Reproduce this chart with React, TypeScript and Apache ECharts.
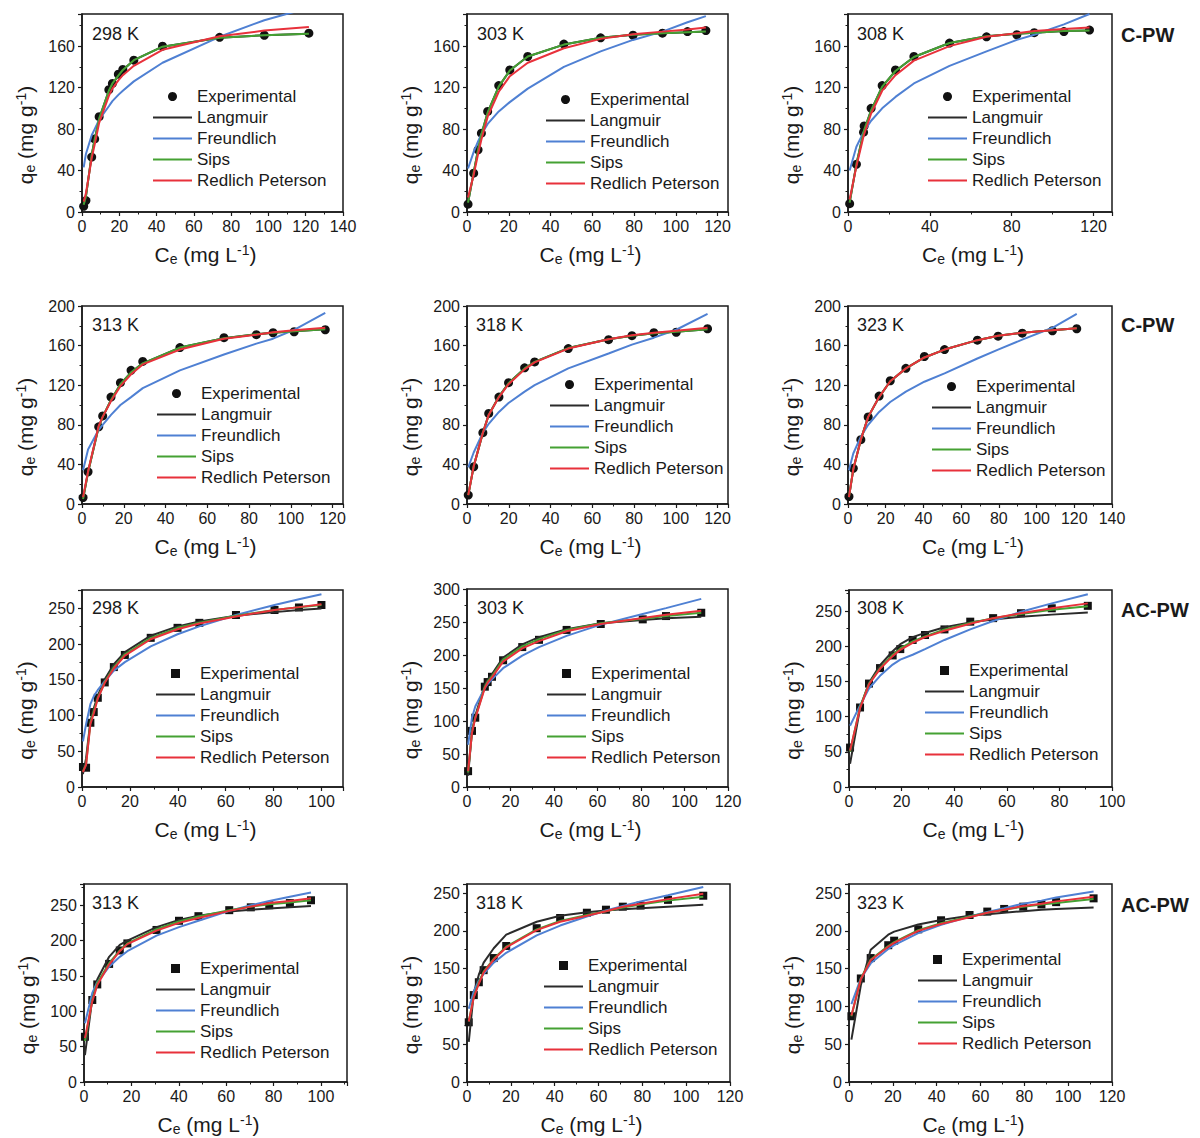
import React, { useEffect, useRef } from "react";
import * as echarts from "echarts";

// ---------- data ----------
// C-PW 298 K
const p1Ce = [0.9, 2.1, 5.2, 6.8, 9.2, 14.4, 16.3, 19.5, 21.9, 27.8, 43.2, 73.8, 97.8, 121.7];
const p1Exp = [5.5, 11, 53, 70.5, 92, 118, 124, 133, 137.5, 146.5, 160, 168.5, 170.5, 172.5];
const p1Langmuir = [7, 15, 55, 70, 90, 117, 123.5, 131.5, 137, 146.5, 159.5, 168, 170.5, 172];
const p1Freundlich = [43, 56, 74, 80, 89, 102, 107, 113, 117, 126, 144, 169, 185, 197];
const p1Sips = [7, 15, 55, 70, 90, 117, 124, 131.5, 137, 146.5, 159.5, 168, 170.5, 172];
const p1RP = [10, 18, 52, 65, 86, 112, 119, 127, 132, 141, 156.5, 169.5, 175, 178.5];
// C-PW 303 K
const p2Ce = [0.5, 3.2, 5.3, 6.9, 9.9, 15.2, 20.5, 29.1, 46.4, 64, 79.5, 93.6, 105.6, 114.4];
const p2Exp = [7.5, 37.5, 60, 76, 97, 122, 137, 150, 162, 168, 170.5, 172.5, 174, 175];
const p2Langmuir = [9, 38, 60, 75, 96, 121, 136.5, 150, 161.5, 168, 171, 172.5, 173.5, 174];
const p2Freundlich = [42, 58, 68, 75, 85, 97, 106, 119, 140, 155, 166, 174, 183, 189];
const p2Sips = [9, 38, 60, 75, 96, 121, 136.5, 150, 161.5, 168, 171, 172.5, 173.5, 174];
const p2RP = [14, 36, 56, 70, 92, 116, 131, 144, 158, 167, 171.5, 174, 176, 178];
// C-PW 308 K
const p3Ce = [0.8, 4.1, 7.6, 7.9, 11.3, 16.7, 23.2, 32.2, 49.6, 67.7, 82.5, 91, 105.5, 118];
const p3Exp = [8, 46, 77, 83, 100, 122, 137, 150, 163, 169, 171, 173, 174, 175.5];
const p3Langmuir = [9, 46, 77, 79, 98, 121, 136, 149.5, 163, 169.5, 172, 173, 174.5, 175];
const p3Freundlich = [40, 63, 77, 78, 88, 100, 111, 124, 141, 155, 166, 171, 181, 191];
const p3Sips = [9, 46, 77, 79, 98, 121, 136, 149.5, 163, 169.5, 172, 173, 174.5, 175];
const p3RP = [12, 44, 73, 75, 95, 117, 132, 146, 160, 169, 172.5, 174.5, 176.5, 178];
// C-PW 313 K
const p4Ce = [0.5, 2.9, 8.0, 9.9, 13.9, 18.4, 23.5, 29.1, 46.9, 68, 83.5, 91.5, 101.6, 116.5];
const p4Exp = [6.5, 32.5, 78, 89, 108, 122.5, 135, 144, 158, 168, 171, 173, 174, 176];
const p4Langmuir = [5, 32, 78, 88, 105, 121, 133, 142, 158, 167.5, 171.5, 173, 174.5, 176.5];
const p4Freundlich = [34, 55, 75, 80, 90, 100, 108, 117, 135, 151, 162, 167, 176, 193];
const p4Sips = [5, 32, 78, 88, 105, 121, 133, 142, 158, 167.5, 171.5, 173, 174.5, 176.5];
const p4RP = [7, 33, 79, 88, 104, 119, 131, 141, 156, 167, 171, 173.5, 175.5, 178];
// C-PW 318 K
const p5Ce = [0.6, 3.2, 7.6, 10.4, 15.3, 19.9, 27.6, 32.4, 48.5, 67.8, 79, 89.5, 100.2, 115.2];
const p5Exp = [9, 37.5, 72, 91.5, 108, 122.5, 137.5, 143.5, 157, 166, 170, 173, 173.5, 177];
const p5Langmuir = [9, 38, 72, 90, 108.5, 122, 137, 143.5, 157.5, 166.5, 170, 172.5, 174, 176.5];
const p5Freundlich = [37, 52, 72, 81, 93, 102, 113.5, 120, 137, 152, 161, 168, 176, 192];
const p5Sips = [9, 38, 72, 90, 108.5, 122, 137, 143.5, 157.5, 166.5, 170, 172.5, 174, 176.5];
const p5RP = [9, 38, 72, 90, 108, 121, 136, 143, 157, 166.5, 170.5, 173, 175, 178];
// C-PW 323 K
const p6Ce = [0.5, 2.8, 6.8, 10.7, 16.5, 22.4, 30.7, 40.5, 51.2, 68.6, 79.6, 92.4, 108.4, 121.3];
const p6Exp = [7.5, 36, 65, 88, 109, 124.5, 137, 149, 156, 165.5, 169.5, 172.5, 175, 177];
const p6Langmuir = [7, 35, 65, 88, 108, 124, 137, 148, 156, 165.5, 170, 173, 175.5, 177.5];
const p6Freundlich = [34, 51, 68, 80, 93, 103, 113.5, 123.5, 132, 147, 156, 166, 178, 192];
const p6Sips = [7, 35, 65, 88, 108, 124, 137, 148, 156, 165.5, 170, 173, 175.5, 177.5];
const p6RP = [7, 35, 65, 88, 108, 124, 137, 148, 156, 165.5, 170, 173, 175.5, 177.5];
// AC-PW 298 K
const p7Ce = [0.4, 1.7, 3.5, 4.9, 6.6, 9.5, 13.3, 17.9, 28.7, 39.9, 49, 64.3, 80.4, 90.6, 100];
const p7Exp = [28, 27, 90, 105, 125, 146.5, 168, 185, 209, 223, 230, 241, 248, 251.5, 255];
const p7Langmuir = [18, 40, 92, 110, 128, 151, 172, 189, 212, 225, 232, 240, 245, 248, 250];
const p7Freundlich = [64, 88, 116, 127, 136, 148, 163, 175, 197, 214, 225, 241, 255, 263, 270];
const p7Sips = [22, 32, 90, 106, 125, 147, 168, 186, 209, 223, 230, 240, 248, 252, 255];
const p7RP = [21, 31, 88, 103, 124, 146, 166, 184, 207, 221, 229, 239, 248, 252, 256];
// AC-PW 303 K
const p8Ce = [0.5, 2.3, 3.8, 8.2, 9.5, 11.5, 16.6, 25.4, 33.1, 45.8, 61.5, 80.8, 91.5, 107.7];
const p8Exp = [24, 85, 105, 152, 159, 167, 192, 212, 223, 238, 247, 254, 259, 264];
const p8Langmuir = [17, 85, 108, 155, 163, 171, 196, 216, 227, 239, 248, 253, 255.5, 258];
const p8Freundlich = [64, 105, 122, 150, 156, 163, 180, 199, 212, 229, 246, 262, 271, 285];
const p8Sips = [22, 84, 105, 152, 160, 168, 193, 213, 224, 238, 248, 255, 259, 264];
const p8RP = [24, 82, 104, 150, 158, 166, 190, 210, 221, 236, 247, 256, 261, 267];
// AC-PW 308 K
const p9Ce = [0.4, 4.2, 7.6, 11.8, 16.6, 19.5, 24.2, 28.9, 36.3, 46.1, 54.8, 65.4, 77.1, 90.8];
const p9Exp = [56, 113, 147, 169, 187, 196, 209, 216, 224, 235, 240, 247, 254, 257.5];
const p9Langmuir = [33, 112, 148, 173, 193, 203, 213, 219, 227, 234, 238, 242, 245, 248];
const p9Freundlich = [87, 116, 140, 158, 174, 181, 188, 196, 209, 224, 236, 249, 261, 274];
const p9Sips = [50, 114, 147, 169, 188, 197, 207, 214, 224, 233, 240, 246, 252, 257];
const p9RP = [52, 112, 146, 168, 186, 195, 205, 213, 222, 232, 240, 247, 254, 261];
// AC-PW 313 K
const p10Ce = [0.4, 3.5, 5.6, 10.6, 15.1, 18.3, 30.6, 40.1, 48.3, 61.3, 70.4, 78.2, 86.9, 95.8];
const p10Exp = [64, 116, 138, 167, 186, 196, 215, 228, 234.5, 243, 247, 250, 253, 257];
const p10Langmuir = [38, 118, 145, 177, 194, 200, 219, 229, 235, 241, 243.5, 245.5, 247, 249];
const p10Freundlich = [83, 126, 141, 163, 177, 185, 207, 219, 228, 242, 250, 256, 262, 268];
const p10Sips = [58, 116, 140, 168, 186, 196, 216, 227, 234, 243, 248, 251.5, 254, 257];
const p10RP = [62, 114, 137, 166, 185, 195, 214, 225, 232, 242, 248, 253, 256, 260];
// AC-PW 318 K
const p11Ce = [0.8, 3.1, 5.4, 7.6, 12.2, 17.9, 31.8, 42.5, 54.7, 63.4, 71.1, 79.2, 91.7, 107.8];
const p11Exp = [79, 115, 132, 148, 164, 180, 203.5, 217, 224, 228, 232, 233.5, 241, 246.5];
const p11Langmuir = [53, 118, 142, 158, 177, 195, 212, 220, 224.5, 227, 228.5, 230, 232, 234.5];
const p11Freundlich = [97, 120, 134, 143, 158, 171, 194, 207, 219, 227, 233, 239, 247, 258];
const p11Sips = [80, 113, 132, 146, 163, 179, 202, 213, 221, 226, 231, 235, 240, 245];
const p11RP = [80, 112, 130, 145, 162, 178, 201, 212, 220, 226, 232, 236, 242, 249];
// AC-PW 323 K
const p12Ce = [1.1, 5.4, 9.9, 17.9, 20.6, 31.6, 42, 55, 63.1, 70.8, 79.5, 87.8, 94.5, 111.6];
const p12Exp = [87, 137, 164, 181, 187, 202, 214, 221, 225.5, 229, 232, 235, 238, 243];
const p12Langmuir = [56, 128, 175, 195, 199, 208.5, 214.5, 220, 222, 224, 226, 228, 229, 231];
const p12Freundlich = [103, 137, 157, 176, 181, 197, 208, 219, 225, 230, 236, 240, 244, 252];
const p12Sips = [87, 137, 162, 180, 185, 201, 210, 219, 224, 228, 232, 235, 237, 242];
const p12RP = [88, 136, 161, 179, 184, 200, 209, 218, 224, 228, 233, 236, 239, 245];

const temperatures = ["298 K", "303 K", "308 K", "313 K", "318 K", "323 K", "298 K", "303 K", "308 K", "313 K", "318 K", "323 K"];
const materials = ["C-PW", "C-PW", "AC-PW", "AC-PW"];
const seriesNames = ["Experimental", "Langmuir", "Freundlich", "Sips", "Redlich Peterson"];

const panelData = [
  { ce: p1Ce, exp: p1Exp, lang: p1Langmuir, freu: p1Freundlich, sips: p1Sips, rp: p1RP },
  { ce: p2Ce, exp: p2Exp, lang: p2Langmuir, freu: p2Freundlich, sips: p2Sips, rp: p2RP },
  { ce: p3Ce, exp: p3Exp, lang: p3Langmuir, freu: p3Freundlich, sips: p3Sips, rp: p3RP },
  { ce: p4Ce, exp: p4Exp, lang: p4Langmuir, freu: p4Freundlich, sips: p4Sips, rp: p4RP },
  { ce: p5Ce, exp: p5Exp, lang: p5Langmuir, freu: p5Freundlich, sips: p5Sips, rp: p5RP },
  { ce: p6Ce, exp: p6Exp, lang: p6Langmuir, freu: p6Freundlich, sips: p6Sips, rp: p6RP },
  { ce: p7Ce, exp: p7Exp, lang: p7Langmuir, freu: p7Freundlich, sips: p7Sips, rp: p7RP },
  { ce: p8Ce, exp: p8Exp, lang: p8Langmuir, freu: p8Freundlich, sips: p8Sips, rp: p8RP },
  { ce: p9Ce, exp: p9Exp, lang: p9Langmuir, freu: p9Freundlich, sips: p9Sips, rp: p9RP },
  { ce: p10Ce, exp: p10Exp, lang: p10Langmuir, freu: p10Freundlich, sips: p10Sips, rp: p10RP },
  { ce: p11Ce, exp: p11Exp, lang: p11Langmuir, freu: p11Freundlich, sips: p11Sips, rp: p11RP },
  { ce: p12Ce, exp: p12Exp, lang: p12Langmuir, freu: p12Freundlich, sips: p12Sips, rp: p12RP },
];

// ---------- layout (pixels) ----------
const layouts = [
  { left: 82, top: 14, width: 261, height: 198, xMax: 140, xInt: 20, yMax: 191, yInt: 40, lgX: 153, lgY: 88 },
  { left: 467, top: 14, width: 261, height: 198, xMax: 125, xInt: 20, yMax: 191, yInt: 40, lgX: 546, lgY: 91 },
  { left: 848, top: 14, width: 264, height: 198, xMax: 129, xInt: 40, yMax: 191, yInt: 40, lgX: 928, lgY: 88 },
  { left: 82, top: 306, width: 261, height: 198, xMax: 125, xInt: 20, yMax: 200, yInt: 40, lgX: 157, lgY: 385 },
  { left: 467, top: 306, width: 261, height: 198, xMax: 125, xInt: 20, yMax: 200, yInt: 40, lgX: 550, lgY: 376 },
  { left: 848, top: 306, width: 264, height: 198, xMax: 140, xInt: 20, yMax: 200, yInt: 40, lgX: 932, lgY: 378 },
  { left: 82, top: 590, width: 261, height: 197, xMax: 109, xInt: 20, yMax: 276, yInt: 50, lgX: 156, lgY: 665 },
  { left: 467, top: 589, width: 261, height: 198, xMax: 120, xInt: 20, yMax: 300, yInt: 50, lgX: 547, lgY: 665 },
  { left: 849, top: 590, width: 263, height: 197, xMax: 100, xInt: 20, yMax: 280, yInt: 50, lgX: 925, lgY: 662 },
  { left: 84, top: 884, width: 263, height: 198, xMax: 111, xInt: 20, yMax: 280, yInt: 50, lgX: 156, lgY: 960 },
  { left: 467, top: 884, width: 263, height: 198, xMax: 120, xInt: 20, yMax: 262, yInt: 50, lgX: 544, lgY: 957 },
  { left: 849, top: 884, width: 263, height: 198, xMax: 120, xInt: 20, yMax: 262, yInt: 50, lgX: 918, lgY: 951 },
];
const tempLabelPos = [
  [92, 34], [477, 34], [857, 34],
  [92, 325], [476, 325], [857, 325],
  [92, 608], [477, 608], [857, 608],
  [92, 903], [476, 903], [857, 903],
];
const materialLabelPos = [[1121, 35], [1121, 325], [1121, 610], [1121, 905]];

const FONT = '"Liberation Sans", Arial, Helvetica, sans-serif';
const INK = "#1a1a1a";
const LINE_COLORS = ["#2b2b2b", "#4f80d3", "#45a133", "#e8313b"];
const LINE_ICON = "path://M0,0 L39,0 L39,2 L0,2 Z";
const SQUARE_ICON = "path://M0,0 L8,0 L8,8 L0,8 Z";

function richFor(size: number) {
  return {
    a: { fontFamily: FONT, fontSize: size, color: INK },
    s: { fontFamily: FONT, fontSize: 14, color: INK, padding: [10, 0, 0, 0] },
    p: { fontFamily: FONT, fontSize: 14, color: INK, padding: [0, 0, 9, 0] },
  };
}

function buildOption() {
  const grid: any[] = [];
  const xAxis: any[] = [];
  const yAxis: any[] = [];
  const legend: any[] = [];
  const series: any[] = [];

  layouts.forEach((l, i) => {
    const isAC = i >= 6;
    grid.push({
      left: l.left, top: l.top, width: l.width, height: l.height,
      show: true, borderColor: INK, borderWidth: 1.5, backgroundColor: "transparent",
      containLabel: false, outerBoundsMode: "none",
    });
    const tickCommon = {
      axisLine: { show: true, onZero: false, lineStyle: { color: INK, width: 1.5 } },
      axisTick: { show: true, inside: false, length: 4, lineStyle: { color: INK, width: 1.2 } },
      minorTick: { show: true, splitNumber: 2, length: 2.5, lineStyle: { color: INK, width: 1 } },
      splitLine: { show: false },
      minorSplitLine: { show: false },
    };
    xAxis.push({
      type: "value", gridIndex: i, min: 0, max: l.xMax, interval: l.xInt,
      name: "{a|C}{s|e}{a| (mg L}{p|-1}{a|)}",
      nameLocation: "middle", nameGap: 30,
      nameTextStyle: { fontFamily: FONT, fontSize: 21, color: INK, padding: [0, 14, 0, 0], rich: richFor(21) },
      ...tickCommon,
      axisLabel: {
        show: true, margin: 6, fontFamily: FONT, fontSize: 16, color: INK,
        formatter: (v: number) => (Math.abs(v % l.xInt) < 1e-6 ? String(v) : ""),
      },
    });
    yAxis.push({
      type: "value", gridIndex: i, min: 0, max: l.yMax, interval: l.yInt,
      name: "{a|q}{s|e}{a| (mg g}{p|-1}{a|)}",
      nameLocation: "middle", nameGap: 45, nameRotate: 90,
      nameTextStyle: { fontFamily: FONT, fontSize: 21, color: INK, padding: [0, 44, 0, 0], rich: richFor(21) },
      ...tickCommon,
      axisLabel: {
        show: true, margin: 7, fontFamily: FONT, fontSize: 16, color: INK,
        formatter: (v: number) => (Math.abs(v % l.yInt) < 1e-6 ? String(v) : ""),
      },
    });
    legend.push({
      orient: "vertical", left: l.lgX, top: l.lgY, padding: 0, itemGap: 4,
      itemWidth: 39, itemHeight: 9, selectedMode: false, symbolKeepAspect: true,
      itemStyle: { borderWidth: 0 },
      textStyle: { fontFamily: FONT, fontSize: 17, color: INK, lineHeight: 17 },
      data: [
        { name: seriesNames[0], icon: isAC ? SQUARE_ICON : "circle", itemStyle: { color: "#111111", opacity: 1, borderWidth: 0 } },
        { name: seriesNames[1], icon: LINE_ICON, itemStyle: { color: LINE_COLORS[0], borderWidth: 0 } },
        { name: seriesNames[2], icon: LINE_ICON, itemStyle: { color: LINE_COLORS[1], borderWidth: 0 } },
        { name: seriesNames[3], icon: LINE_ICON, itemStyle: { color: LINE_COLORS[2], borderWidth: 0 } },
        { name: seriesNames[4], icon: LINE_ICON, itemStyle: { color: LINE_COLORS[3], borderWidth: 0 } },
      ],
    });

    const d = panelData[i];
    series.push({
      type: "scatter", name: seriesNames[0], xAxisIndex: i, yAxisIndex: i,
      symbol: isAC ? "rect" : "circle", symbolSize: isAC ? 8 : 9,
      itemStyle: { color: "#111111", opacity: 1 },
      data: d.ce.map((x, k) => [x, d.exp[k]]), z: 2,
    });
    const fits = [d.lang, d.freu, d.sips, d.rp];
    fits.forEach((vals, j) => {
      series.push({
        type: "line", name: seriesNames[j + 1], xAxisIndex: i, yAxisIndex: i,
        symbol: "none", showSymbol: false, clip: true,
        lineStyle: { color: LINE_COLORS[j], width: 2 },
        itemStyle: { color: LINE_COLORS[j] },
        data: d.ce.map((x, k) => [x, vals[k]]), z: 3,
      });
    });
  });

  const graphic: any[] = [];
  tempLabelPos.forEach((p, i) => {
    graphic.push({
      type: "text", x: p[0], y: p[1], z: 10,
      style: { text: temperatures[i], fontFamily: FONT, fontSize: 18, fill: INK, verticalAlign: "middle", align: "left" },
    });
  });
  materialLabelPos.forEach((p, i) => {
    graphic.push({
      type: "text", x: p[0], y: p[1], z: 10,
      style: { text: materials[i], fontFamily: FONT, fontSize: 20, fontWeight: "bold", fill: INK, verticalAlign: "middle", align: "left" },
    });
  });

  return {
    animation: false,
    backgroundColor: "#ffffff",
    textStyle: { fontFamily: FONT },
    grid, xAxis, yAxis, legend, series, graphic,
  };
}

export default function App() {
  const ref = useRef<HTMLDivElement>(null);
  useEffect(() => {
    document.body.style.margin = "0";
    if (!ref.current) return;
    const chart = echarts.init(ref.current, undefined, { renderer: "svg" });
    chart.setOption(buildOption() as any);
    return () => chart.dispose();
  }, []);
  return <div ref={ref} style={{ width: 1200, height: 1138 }} />;
}
